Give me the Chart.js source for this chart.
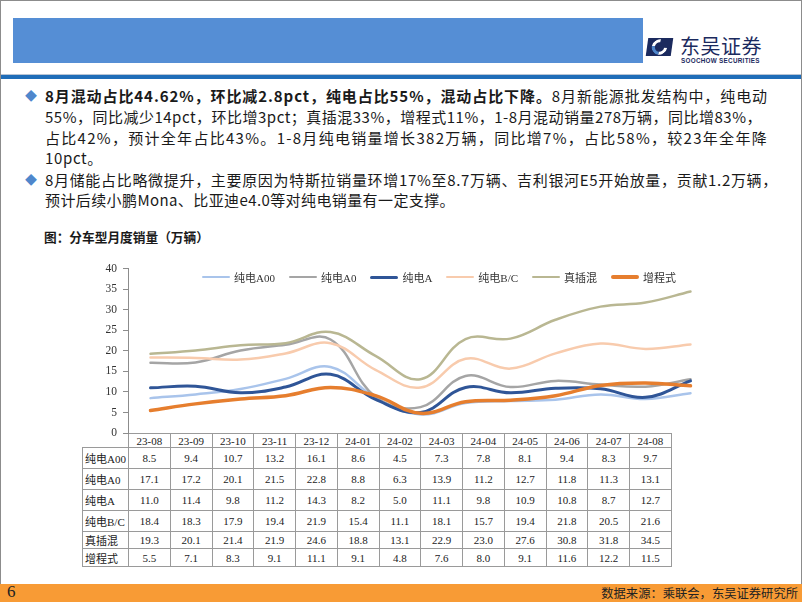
<!DOCTYPE html>
<html>
<head>
<meta charset="utf-8">
<script src="https://cdn.jsdelivr.net/npm/chart.js@4.4.1/dist/chart.umd.min.js"></script>
<style>
html, body { margin: 0; padding: 0; }
body { width: 802px; height: 602px; position: relative; overflow: hidden; background: #fff;
       font-family: "Noto Sans CJK SC", "Noto Sans", sans-serif; color: #1a1a1a; }
.frame { position: absolute; left: 0; top: 0; width: 800px; height: 600px; border: 1px solid #8c8c8c; }
.banner { position: absolute; left: 13px; top: 18px; width: 630px; height: 45px; background: #558ed5; }
.rule { position: absolute; left: 1px; top: 74px; width: 800px; height: 4px; background: #1f6db8; border-top: 1px solid #b8c4d4; }
.logo-icon { position: absolute; left: 647px; top: 38px; width: 25px; height: 18px; background: #1b2a5e; overflow: hidden; transform: skewX(-8deg); }
.logo-icon i { position: absolute; left: 5px; top: 1px; width: 15px; height: 16px; border: 3px solid #fff; border-radius: 50%;
               border-left-color: #4f87cc; border-right-color: transparent; transform: rotate(-40deg); box-sizing: border-box; }
.logo-cn { position: absolute; left: 680px; top: 31px; font-size: 20px; color: #1b2a5e; letter-spacing: 0.5px; }
.logo-en { position: absolute; left: 681px; top: 57px; font-size: 6.3px; font-weight: bold; color: #1b2a5e; letter-spacing: 0.3px;
           font-family: "Liberation Sans Narrow", "Liberation Sans", sans-serif; white-space: nowrap; }
.ln { position: absolute; left: 45px; font-size: 15px; line-height: 20px; white-space: nowrap; }
.dot { position: absolute; left: 25px; font-size: 12px; line-height: 20px; color: #4f87cc; }
.caption { position: absolute; left: 44px; top: 227px; font-size: 12.7px; font-weight: bold; }
#wrap { position: absolute; left: 82px; top: 256px; width: 631px; height: 190px; z-index: 2; }
#legend { position: absolute; left: 202px; top: 269px; height: 16px; display: flex; align-items: center; z-index: 3;
          font-family: "Liberation Serif", "Noto Sans CJK SC", serif; font-size: 11px; color: #333; }
#legend .it { display: flex; align-items: center; margin-right: 14px; }
#legend .sw { width: 28px; margin-right: 4px; border-radius: 2px; }
table { position: absolute; left: 82px; top: 433px; border-collapse: collapse; table-layout: fixed;
        font-family: "Liberation Serif", "Noto Sans CJK SC", serif; font-size: 11px; color: #222; }
td { border: 1.5px solid #9a9a9a; text-align: center; padding: 0; white-space: nowrap; overflow: hidden; }
td.lab { text-align: left; padding-left: 2px; }
td.blank { border: none; }
.footer { position: absolute; left: 0; top: 584px; width: 802px; height: 18px; background: #f89b35; }
.pg { position: absolute; left: 7px; top: -2px; font-family: "Liberation Serif", serif; font-size: 17px; color: #222; }
.src { position: absolute; right: 4px; top: 0px; font-size: 12.3px; line-height: 18px; color: #222; }
</style>
</head>
<body>
<div class="frame"></div>
<div class="banner"></div>
<div class="logo-icon"><i></i></div>
<div class="logo-cn">东吴证券</div>
<div class="logo-en">SOOCHOW SECURITIES</div>
<div class="rule"></div>

<div class="dot" style="top:86px">&#9670;</div>
<div class="ln" data-end="768" style="top:86px"><b>8月混动占比44.62%，环比减2.8pct，纯电占比55%，混动占比下降。</b>8月新能源批发结构中，纯电动</div>
<div class="ln" data-end="762" style="top:107px">55%，同比减少14pct，环比增3pct；真插混33%，增程式11%，1-8月混动销量278万辆，同比增83%，</div>
<div class="ln" data-end="768" style="top:128px">占比42%，预计全年占比43%。1-8月纯电销量增长382万辆，同比增7%，占比58%，较23年全年降</div>
<div class="ln" data-end="103" style="top:148px">10pct。</div>
<div class="dot" style="top:170px">&#9670;</div>
<div class="ln" data-end="778" style="top:170px">8月储能占比略微提升，主要原因为特斯拉销量环增17%至8.7万辆、吉利银河E5开始放量，贡献1.2万辆，</div>
<div class="ln" data-end="455" style="top:190px">预计后续小鹏Mona、比亚迪e4.0等对纯电销量有一定支撑。</div>

<div class="caption">图：分车型月度销量（万辆）</div>

<div id="wrap"><canvas id="chart"></canvas></div>
<div id="legend"></div>
<table id="tbl"></table>

<div class="footer"><span class="pg">6</span><span class="src">数据来源：乘联会，东吴证券研究所</span></div>

<script>
const months = ["23-08", "23-09", "23-10", "23-11", "23-12", "24-01", "24-02", "24-03", "24-04", "24-05", "24-06", "24-07", "24-08"];
const seriesNames = ["纯电A00", "纯电A0", "纯电A", "纯电B/C", "真插混", "增程式"];
const bevA00 = [8.5, 9.4, 10.7, 13.2, 16.1, 8.6, 4.5, 7.3, 7.8, 8.1, 9.4, 8.3, 9.7];
const bevA0 = [17.1, 17.2, 20.1, 21.5, 22.8, 8.8, 6.3, 13.9, 11.2, 12.7, 11.8, 11.3, 13.1];
const bevA = [11.0, 11.4, 9.8, 11.2, 14.3, 8.2, 5.0, 11.1, 9.8, 10.9, 10.8, 8.7, 12.7];
const bevBC = [18.4, 18.3, 17.9, 19.4, 21.9, 15.4, 11.1, 18.1, 15.7, 19.4, 21.8, 20.5, 21.6];
const phev = [19.3, 20.1, 21.4, 21.9, 24.6, 18.8, 13.1, 22.9, 23.0, 27.6, 30.8, 31.8, 34.5];
const erev = [5.5, 7.1, 8.3, 9.1, 11.1, 9.1, 4.8, 7.6, 8.0, 9.1, 11.6, 12.2, 11.5];
const yTicks = [0, 5, 10, 15, 20, 25, 30, 35, 40];

const seriesValues = [bevA00, bevA0, bevA, bevBC, phev, erev];
const colors = ["#a9c4eb", "#a5a5a5", "#2f5597", "#f8cbad", "#b9b792", "#e67e2e"];
const widths = [2.5, 2.5, 3, 2.5, 2.5, 3.5];

// stretch each text line to the width it has on the slide
document.querySelectorAll(".ln").forEach(el => {
  const end = +el.dataset.end;
  const w = el.getBoundingClientRect().width;
  const n = el.textContent.length;
  el.style.letterSpacing = ((end - 45 - w) / n) + "px";
});

// legend
document.getElementById("legend").innerHTML = seriesNames.map((n, i) =>
  '<span class="it"><span class="sw" style="height:' + widths[i] + 'px;background:' + colors[i] + '"></span>' + n + '</span>'
).join("");

// table under the plot
const tbl = document.getElementById("tbl");
let html = '<colgroup><col style="width:46px">' + months.map(() => '<col style="width:41.75px">').join("") + '</colgroup>';
html += '<tr style="height:14px"><td class="blank"></td>' + months.map(m => '<td>' + m + '</td>').join("") + '</tr>';
const rowH = [21, 21, 21, 21, 16, 18];
seriesNames.forEach((n, i) => {
  html += '<tr style="height:' + rowH[i] + 'px"><td class="lab">' + n + '</td>' +
    seriesValues[i].map(v => '<td>' + v.toFixed(1) + '</td>').join("") + '</tr>';
});
tbl.innerHTML = html;

new Chart(document.getElementById("chart"), {
  type: "line",
  data: {
    labels: months,
    datasets: seriesNames.map((n, i) => ({
      label: n,
      data: seriesValues[i],
      borderColor: colors[i],
      backgroundColor: colors[i],
      borderWidth: widths[i],
      pointRadius: 0,
      tension: 0.4,
      fill: false,
      borderCapStyle: "round",
      borderJoinStyle: "round",
      order: 10 - i
    }))
  },
  options: {
    responsive: true,
    maintainAspectRatio: false,
    animation: false,
    layout: { padding: { top: 10, bottom: 13, left: 0, right: 0 } },
    plugins: { tooltip: { enabled: false }, legend: { display: false } },
    scales: {
      x: { display: false, offset: true },
      y: {
        min: 0, max: 40,
        afterFit: s => { s.width = 46; },
        afterBuildTicks: s => { s.ticks = yTicks.map(v => ({ value: v })); },
        ticks: { color: "#333", padding: 6, font: { family: "'Liberation Serif', serif", size: 11.5 } },
        grid: { drawOnChartArea: false, tickLength: 5, color: "#8c8c8c" },
        border: { color: "#8c8c8c", width: 1 }
      }
    }
  }
});
</script>
</body>
</html>
